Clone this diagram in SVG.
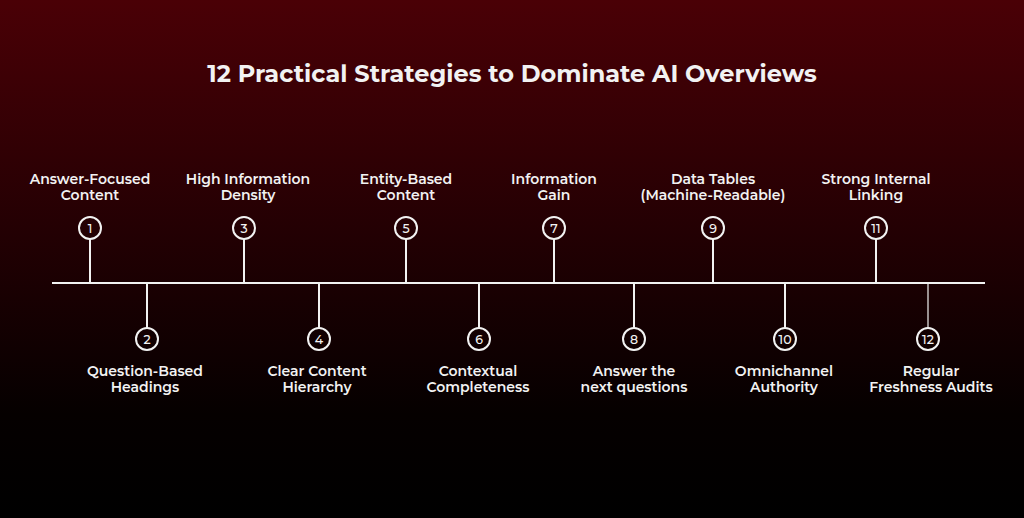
<svg xmlns="http://www.w3.org/2000/svg" width="1024" height="518" viewBox="0 0 1024 518">
<defs>
<linearGradient id="bg" x1="0" y1="0" x2="0" y2="1">
<stop offset="0" stop-color="#4a0006"/>
<stop offset="0.45" stop-color="#230003"/>
<stop offset="0.8" stop-color="#050000"/>
<stop offset="1" stop-color="#000"/>
</linearGradient>
<style>
text{font-family:"Montserrat","Lato","Liberation Sans",sans-serif;fill:#f2f2f2;text-anchor:middle;font-weight:600}
.l{font-size:14px}
.n{font-size:12.5px;font-weight:500}
circle{fill:none;stroke:#f2f2f2;stroke-width:2}
line{stroke:#f2f2f2;stroke-width:2}
</style>
</defs>
<rect width="1024" height="518" fill="url(#bg)"/>
<text x="512" y="82" style="font-size:24px;font-weight:700">12 Practical Strategies to Dominate AI Overviews</text>
<g id="connectors">
<line x1="52" y1="283" x2="985" y2="283"/>
<line x1="90" y1="239" x2="90" y2="283"/>
<line x1="244" y1="239" x2="244" y2="283"/>
<line x1="406" y1="239" x2="406" y2="283"/>
<line x1="554" y1="239" x2="554" y2="283"/>
<line x1="713" y1="239" x2="713" y2="283"/>
<line x1="876" y1="239" x2="876" y2="283"/>
<line x1="147" y1="283" x2="147" y2="328"/>
<line x1="319" y1="283" x2="319" y2="328"/>
<line x1="479" y1="283" x2="479" y2="328"/>
<line x1="634" y1="283" x2="634" y2="328"/>
<line x1="785" y1="283" x2="785" y2="328"/>
<line x1="928" y1="283" x2="928" y2="328" style="stroke-width:1.2"/>
</g>
<g id="n1"><circle cx="90" cy="228" r="11"/><text class="n" x="90" y="232.5">1</text><text class="l" x="90" y="184">Answer-Focused</text><text class="l" x="90" y="200">Content</text></g>
<g id="n3"><circle cx="244" cy="228" r="11"/><text class="n" x="244" y="232.5">3</text><text class="l" x="248" y="184">High Information</text><text class="l" x="248" y="200">Density</text></g>
<g id="n5"><circle cx="406" cy="228" r="11"/><text class="n" x="406" y="232.5">5</text><text class="l" x="406" y="184">Entity-Based</text><text class="l" x="406" y="200">Content</text></g>
<g id="n7"><circle cx="554" cy="228" r="11"/><text class="n" x="554" y="232.5">7</text><text class="l" x="554" y="184">Information</text><text class="l" x="554" y="200">Gain</text></g>
<g id="n9"><circle cx="713" cy="228" r="11"/><text class="n" x="713" y="232.5">9</text><text class="l" x="713" y="184">Data Tables</text><text class="l" x="713" y="200">(Machine-Readable)</text></g>
<g id="n11"><circle cx="876" cy="228" r="11"/><text class="n" x="876" y="232.5">11</text><text class="l" x="876" y="184">Strong Internal</text><text class="l" x="876" y="200">Linking</text></g>
<g id="n2"><circle cx="147" cy="339" r="11"/><text class="n" x="147" y="343.5">2</text><text class="l" x="145" y="376">Question-Based</text><text class="l" x="145" y="392">Headings</text></g>
<g id="n4"><circle cx="319" cy="339" r="11"/><text class="n" x="319" y="343.5">4</text><text class="l" x="317" y="376">Clear Content</text><text class="l" x="317" y="392">Hierarchy</text></g>
<g id="n6"><circle cx="479" cy="339" r="11"/><text class="n" x="479" y="343.5">6</text><text class="l" x="478" y="376">Contextual</text><text class="l" x="478" y="392">Completeness</text></g>
<g id="n8"><circle cx="634" cy="339" r="11"/><text class="n" x="634" y="343.5">8</text><text class="l" x="634" y="376">Answer the</text><text class="l" x="634" y="392">next questions</text></g>
<g id="n10"><circle cx="785" cy="339" r="11"/><text class="n" x="785" y="343.5">10</text><text class="l" x="784" y="376">Omnichannel</text><text class="l" x="784" y="392">Authority</text></g>
<g id="n12"><circle cx="928" cy="339" r="11"/><text class="n" x="928" y="343.5">12</text><text class="l" x="931" y="376">Regular</text><text class="l" x="931" y="392">Freshness Audits</text></g>
</svg>
